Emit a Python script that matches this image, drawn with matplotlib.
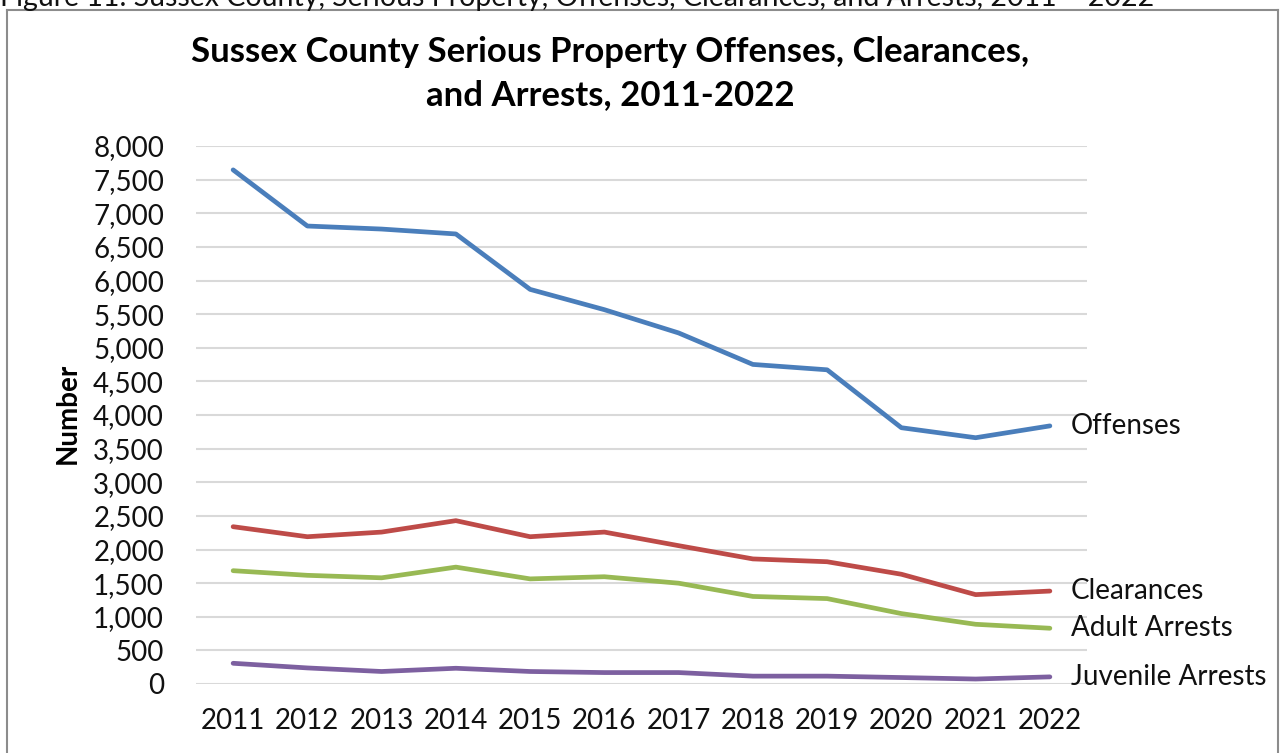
import matplotlib
matplotlib.use("Agg")
import matplotlib.pyplot as plt
from matplotlib.lines import Line2D
from matplotlib.ticker import FuncFormatter, MultipleLocator

years = ["2011", "2012", "2013", "2014", "2015", "2016", "2017", "2018", "2019", "2020", "2021", "2022"]
offenses = [7645, 6810, 6765, 6692, 5868, 5566, 5220, 4752, 4672, 3811, 3662, 3838]
clearances = [2339, 2190, 2259, 2429, 2190, 2259, 2057, 1860, 1818, 1632, 1329, 1382]
adult_arrests = [1685, 1616, 1579, 1738, 1563, 1595, 1499, 1302, 1270, 1047, 888, 829]
juvenile_arrests = [308, 239, 186, 234, 186, 170, 170, 117, 117, 96, 74, 106]
series_names = ["Offenses", "Clearances", "Adult Arrests", "Juvenile Arrests"]
colors = ["#4A7EBB", "#BE4B48", "#98B954", "#7D60A0"]

FONT = "Lato"
W, H = 1281, 753
fig = plt.figure(figsize=(W / 100, H / 100), dpi=100)
ax = fig.add_axes([196 / W, 1 - 684 / H, (1087 - 196) / W, (684 - 146) / H])

x = list(range(len(years)))
data = [offenses, clearances, adult_arrests, juvenile_arrests]
for vals, c in zip(data, colors):
    ax.plot(x, vals, color=c, lw=3.4, solid_capstyle="round", solid_joinstyle="round", zorder=3)

ax.set_xlim(-0.5, len(years) - 0.5)
ax.set_ylim(0, 8000)
ax.yaxis.set_major_locator(MultipleLocator(500))
ax.yaxis.set_major_formatter(FuncFormatter(lambda v, p: f"{int(v):,}"))
ax.set_xticks(x)
ax.set_xticklabels(years)
ax.grid(axis="y", color="#D9D9D9", lw=1.5, zorder=0)
for s in ax.spines.values():
    s.set_visible(False)
ax.tick_params(length=0, labelsize=20)
ax.tick_params(axis="x", pad=17)
ax.tick_params(axis="y", pad=23)
for lab in ax.get_xticklabels() + ax.get_yticklabels():
    lab.set_fontfamily(FONT)
    lab.set_color("#111111")

fig.text(68 / W, 1 - 413 / H, "Number", rotation=90, ha="center", va="center",
         fontsize=20, fontweight="bold", fontfamily=FONT)

# series labels at right end
for name, vals in zip(series_names, data):
    ax.annotate(name, xy=(len(years) - 1, vals[-1]), xytext=(15, 0), textcoords="offset points",
                va="center", ha="left", fontsize=20, fontfamily=FONT, color="#111111",
                annotation_clip=False)

fig.text(610 / W, 1 - 52 / H, "Sussex County Serious Property Offenses, Clearances,",
         ha="center", va="center", fontsize=25, fontweight="bold", fontfamily=FONT)
fig.text(610 / W, 1 - 95 / H, "and Arrests, 2011-2022",
         ha="center", va="center", fontsize=25, fontweight="bold", fontfamily=FONT)

# cropped caption at the very top
fig.text(0, 1 - 6 / H, "Figure 11: Sussex County, Serious Property, Offenses, Clearances, and Arrests, 2011 – 2022",
         ha="left", va="baseline", fontsize=20.5, fontfamily=FONT, color="#111111")

# frame around chart
fc = "#8C8C8C"
fig.add_artist(Line2D([7 / W, 7 / W], [0, 1 - 10 / H], transform=fig.transFigure, color=fc, lw=1.5))
fig.add_artist(Line2D([1278 / W, 1278 / W], [0, 1 - 10 / H], transform=fig.transFigure, color=fc, lw=1.5))
fig.add_artist(Line2D([7 / W, 1278 / W], [1 - 10 / H, 1 - 10 / H], transform=fig.transFigure, color=fc, lw=1.5))

fig.savefig("out.png", dpi=100)
